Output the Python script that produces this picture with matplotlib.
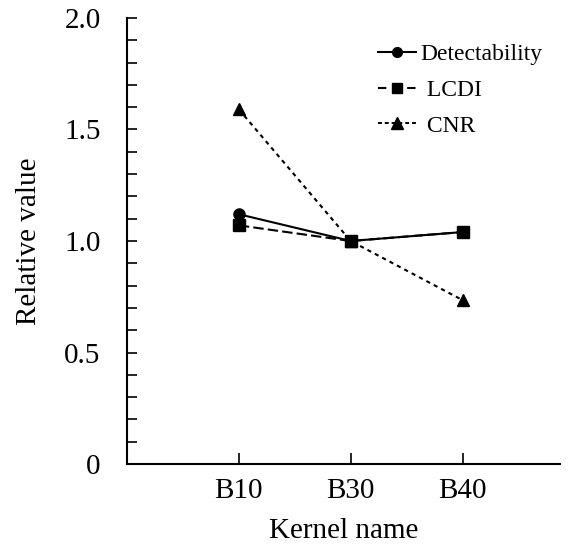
import matplotlib.pyplot as plt
from matplotlib.lines import Line2D

plt.rcParams['font.family'] = ['Liberation Serif', 'DejaVu Serif']

# Data
kernels = ['B10', 'B30', 'B40']
detectability = [1.12, 1.00, 1.04]
lcdi = [1.07, 1.00, 1.04]
cnr = [1.59, 1.00, 0.735]

y_major = [0, 0.5, 1.0, 1.5, 2.0]
y_major_labels = ['0', '0.5', '1.0', '1.5', '2.0']
y_minor = [i / 10 for i in range(21)]

x = [1, 2, 3]

fig = plt.figure(figsize=(5.68, 5.44), dpi=100)
ax = fig.add_axes([0.2236, 0.147, 0.762, 0.820])

ax.plot(x, detectability, color='black', linestyle='-', linewidth=1.5,
        marker='o', markersize=8)
ax.plot(x, lcdi, color='black', linestyle=(0, (5, 2)), linewidth=1.5,
        marker='s', markersize=8)
ax.plot(x, cnr, color='black', linestyle=(0, (2, 2)), linewidth=1.5,
        marker='^', markersize=9)

ax.set_xlim(0, 3.87)
ax.set_ylim(0, 2.0)
ax.set_xticks(x)
ax.set_xticklabels(kernels)
ax.set_yticks(y_major)
ax.set_yticklabels(y_major_labels)
ax.set_yticks(y_minor, minor=True)

ax.tick_params(axis='both', which='both', direction='in', labelsize=21, width=1.2)
ax.tick_params(axis='y', which='both', length=7, pad=19)
ax.tick_params(axis='x', which='major', length=8, pad=10)

for side in ['top', 'right']:
    ax.spines[side].set_visible(False)
for side in ['left', 'bottom']:
    ax.spines[side].set_linewidth(1.5)

ax.set_xlabel('Kernel name', fontsize=21, labelpad=10)
ax.set_ylabel('Relative value', fontsize=21, labelpad=16)

# legend handles with dash patterns tuned to the short handle length
handles = [
    Line2D([], [], color='black', linestyle='-', linewidth=1.5, marker='o', markersize=7),
    Line2D([], [], color='black', linestyle=(0, (4, 3)), linewidth=1.5, marker='s', markersize=7),
    Line2D([], [], color='black', linestyle=(0, (2, 1.5)), linewidth=1.4, marker='^', markersize=8),
]
labels = ['Detectability', ' LCDI', ' CNR']
ax.legend(handles, labels, loc='upper right', bbox_to_anchor=(1.01, 0.99), frameon=False,
          fontsize=17, handlelength=1.6, handletextpad=0.2, labelspacing=0.6)

fig.savefig('out.png', dpi=100)
